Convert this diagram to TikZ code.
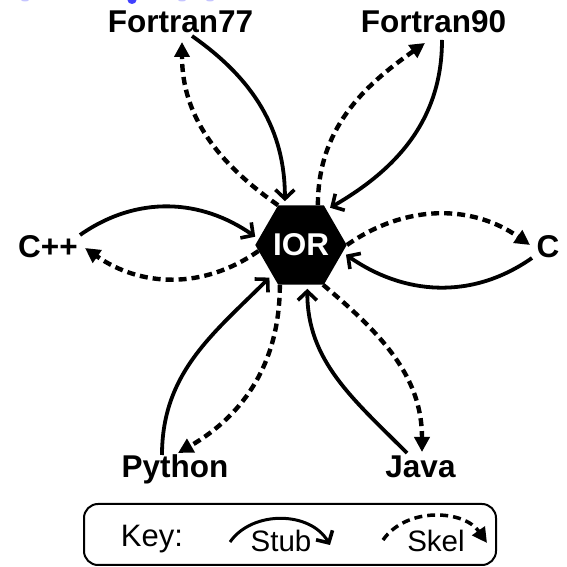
\documentclass[tikz,border=0pt]{standalone}
\usepackage{fontspec}
\setmainfont{Liberation Sans}
\usetikzlibrary{shapes.geometric,arrows.meta}
\begin{document}
\begin{tikzpicture}[x=1pt,y=1pt,
  lang/.style={font=\fontsize{31.5}{36}\selectfont\bfseries, anchor=base, inner sep=0pt},
  keytxt/.style={font=\fontsize{29.5}{34}\selectfont, anchor=base, inner sep=0pt},
  stub/.style={line width=3.8pt, -{Straight Barb[length=9pt,width=19pt,line width=3.6pt]}},
  tohex/.style={shorten >=4pt},
  skel/.style={line width=4.4pt, dash pattern=on 8pt off 5pt, -{Triangle[length=15pt,width=15pt]}},
  frag/.style={fill=blue!75!white},
]
\useasboundingbox (0,0) rectangle (566,567);
% cut-off title fragments
\fill[frag] (132,567) ellipse (4.5 and 4);
\fill[frag, opacity=0.3] (25,567) ellipse (4 and 1.5);
\fill[frag, opacity=0.3] (182,567) ellipse (4 and 1.5);
\fill[frag, opacity=0.3] (210,567) ellipse (4 and 1.5);

\node[regular polygon, regular polygon sides=6, minimum size=88pt, fill=black, inner sep=0pt,
      text=white, font=\fontsize{31.5}{36}\selectfont\bfseries] (ior) at (301,322) {IOR};

\node[lang] (f77) at (180.5,534) {Fortran77};
\node[lang] (f90) at (433.5,534) {Fortran90};
\node[lang] (cpp) at (48,309) {C++};
\node[lang] (c) at (548,309) {C};
\node[lang] (py) at (175,89) {Python};
\node[lang] (java) at (420.5,89) {Java};

\coordinate (f77s) at (192,531);
\coordinate (f77k) at (182,525);
\coordinate (f90s) at (442,527);
\coordinate (f90k) at (425,524);
\coordinate (cpps) at (80,332);
\coordinate (cppk) at (85,319);
\coordinate (cs) at (532,309);
\coordinate (ck) at (530,322);
\coordinate (pys) at (162,112);
\coordinate (pyk) at (178,114);
\coordinate (javas) at (407,114);
\coordinate (javak) at (422,115);

\draw[stub, tohex] (f77s) to[out=-35,in=90] (ior.112);
\draw[skel] (ior.120) to[out=145,in=-90] (f77k);
\draw[stub, tohex] (f90s) to[out=-90,in=30] (ior.54);
\draw[skel] (ior.67) to[out=90,in=-145] (f90k);
\draw[stub, tohex] (cpps) to[out=35,in=145] (ior.172);
\draw[skel] (ior.188) to[out=-145,in=-35] (cppk);
\draw[skel] (ior.0) to[out=35,in=145] (ck);
\draw[stub, tohex] (cs) to[out=-145,in=-35] (ior.-10);
\draw[stub, tohex] (pys) to[out=90,in=-135] (ior.226);
\draw[skel] (ior.242) to[out=-90,in=30] (pyk);
\draw[stub, tohex] (javas) to[out=135,in=-90] (ior.-81);
\draw[skel] (ior.-61) to[out=-40,in=90] (javak);

% key
\node[draw, line width=2pt, rounded corners=14pt, minimum width=412pt, minimum height=61pt] (keybox) at (290,32.5) {};
\node[keytxt, font=\fontsize{31}{34}\selectfont] (key) at (152,20) {Key:};
\node[keytxt] (stubt) at (281,15) {Stub};
\node[keytxt] (skelt) at (436,15) {Skel};
\coordinate (ks1) at (230,25);
\coordinate (ks2) at (330,22);
\coordinate (kk1) at (383,27);
\coordinate (kk2) at (487,24);
\draw[stub, line width=3pt] (ks1) to[out=55,in=120] (ks2);
\draw[skel, line width=3.5pt] (kk1) to[out=55,in=125] (kk2);
\end{tikzpicture}
\end{document}
